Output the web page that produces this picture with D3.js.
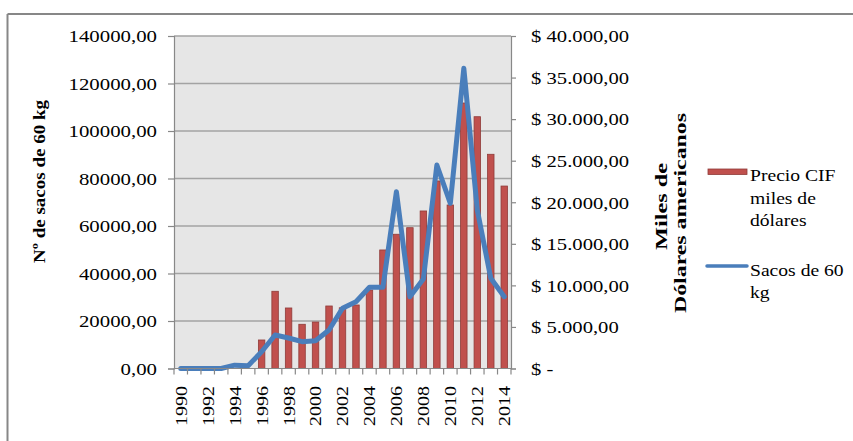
<!DOCTYPE html>
<html>
<head>
<meta charset="utf-8">
<script src="https://cdn.jsdelivr.net/npm/d3@7"></script>
<style>
  html, body { margin: 0; padding: 0; background: #fff; }
  svg { display: block; }
  text { font-family: "Liberation Serif", "Times New Roman", serif; fill: #000; }
</style>
</head>
<body>
<svg id="chart" width="853" height="441"></svg>
<script>
// ---- data ----
const years = ["1990","1991","1992","1993","1994","1995","1996","1997","1998","1999","2000","2001","2002",
               "2003","2004","2005","2006","2007","2008","2009","2010","2011","2012","2013","2014"];
// Precio CIF miles de dólares (bars, right axis)
const precioCIF = [0,0,0,0,0,0,3430,9290,7280,5320,5590,7520,7300,7640,9440,14260,16150,16940,18950,22560,19670,31940,30290,25770,21950];
// Sacos de 60 kg (line, left axis)
const sacos = [0,0,0,0,1400,1200,7070,14100,12840,11280,11700,16200,25350,28130,34190,34190,74440,30230,37680,85680,69560,126400,66740,37980,30230];
const leftTicks = [0,20000,40000,60000,80000,100000,120000,140000];
const rightTicks = [0,5000,10000,15000,20000,25000,30000,35000,40000];
const xTickLabels = ["1990","1992","1994","1996","1998","2000","2002","2004","2006","2008","2010","2012","2014"];
const leftTitle = "Nº de sacos de 60 kg";
const rightTitle = ["Miles de", "Dólares  americanos"];
const legendPrecio = ["Precio CIF", "miles de", "dólares"];
const legendSacos = ["Sacos de 60", "kg"];

// ---- layout ----
const svg = d3.select("#chart");
const L = 174, R = 511, T = 36, B = 368.5;
const FS = 17.5;
const red = "#c0504d", redStroke = "#8f3b39", blue = "#4a7ebb";
const axisGray = "#888888", gridGray = "#a3a3a3";

function stretch(sel, f) {
  sel.each(function () {
    const l = this.getComputedTextLength();
    d3.select(this).attr("textLength", l * f).attr("lengthAdjust", "spacingAndGlyphs");
  });
}
function fitLen(sel, len) {
  sel.attr("textLength", len).attr("lengthAdjust", "spacingAndGlyphs");
}

// outer chart border
svg.append("line").attr("x1", 7.5).attr("x2", 853).attr("y1", 14).attr("y2", 14)
  .attr("stroke", "#878787").attr("stroke-width", 2);
svg.append("line").attr("x1", 7.5).attr("x2", 7.5).attr("y1", 14).attr("y2", 441)
  .attr("stroke", "#878787").attr("stroke-width", 2);

const x = d3.scaleBand().domain(years).range([L, R]).padding(0);
const yL = d3.scaleLinear().domain([0, 140000]).range([B, T]);
const yR = d3.scaleLinear().domain([0, 40000]).range([B, T]);

// plot background
svg.append("rect").attr("x", L).attr("y", T).attr("width", R - L).attr("height", B - T).attr("fill", "#e6e6e6");

// gridlines
svg.append("g").selectAll("line").data(leftTicks.filter(d => d > 0)).join("line")
  .attr("x1", L).attr("x2", R).attr("y1", d => yL(d)).attr("y2", d => yL(d))
  .attr("stroke", gridGray).attr("stroke-width", 1.5);

// bars
const bw = x.bandwidth() * 0.48;
svg.append("g").selectAll("rect").data(years.map((y, i) => ({ y, v: precioCIF[i] })).filter(d => d.v > 0)).join("rect")
  .attr("x", d => x(d.y) + x.bandwidth() / 2 - bw / 2)
  .attr("y", d => yR(d.v))
  .attr("width", bw)
  .attr("height", d => B - yR(d.v))
  .attr("fill", red).attr("stroke", redStroke).attr("stroke-width", 0.8);

// line
const line = d3.line().x((d, i) => x(years[i]) + x.bandwidth() / 2).y(d => yL(d));
svg.append("path").datum(sacos).attr("d", line)
  .attr("fill", "none").attr("stroke", blue).attr("stroke-width", 5)
  .attr("stroke-linejoin", "round").attr("stroke-linecap", "round");

// left axis
const fmtLeft = v => v.toFixed(2).replace(".", ",");
const axL = svg.append("g").attr("transform", `translate(${L},0)`)
  .call(d3.axisLeft(yL).tickValues(leftTicks).tickFormat(fmtLeft).tickSize(6).tickPadding(11));
axL.select(".domain").attr("stroke", axisGray).attr("stroke-width", 1.2);
axL.selectAll(".tick line").attr("stroke", axisGray).attr("stroke-width", 1.2);
axL.selectAll(".tick text").attr("font-size", FS).attr("font-family", "Liberation Serif").attr("dy", "0.33em").call(stretch, 1.19);

// right axis
const loc = d3.formatLocale({ decimal: ",", thousands: ".", grouping: [3], currency: ["$ ", ""] });
const fmtR0 = loc.format("$,.2f");
const fmtRight = v => v === 0 ? "$ -" : fmtR0(v);
const axR = svg.append("g").attr("transform", `translate(${R},0)`)
  .call(d3.axisRight(yR).tickValues(rightTicks).tickFormat(fmtRight).tickSize(5).tickPadding(15));
axR.select(".domain").attr("stroke", axisGray).attr("stroke-width", 1.2);
axR.selectAll(".tick line").attr("stroke", axisGray).attr("stroke-width", 1.2);
axR.selectAll(".tick text").attr("font-size", FS).attr("font-family", "Liberation Serif").attr("dy", "0.33em").call(stretch, 1.18);

// bottom axis: ticks at category boundaries
const xb = svg.append("g");
xb.append("line").attr("x1", L).attr("x2", R).attr("y1", B).attr("y2", B).attr("stroke", axisGray).attr("stroke-width", 1.2);
xb.selectAll("line.tk").data(years.concat(["end"])).join("line").attr("class", "tk")
  .attr("x1", (d, i) => i < years.length ? x(d) : R).attr("x2", (d, i) => i < years.length ? x(d) : R)
  .attr("y1", B).attr("y2", B + 6).attr("stroke", axisGray).attr("stroke-width", 1.2);
xb.selectAll("text").data(xTickLabels).join("text")
  .attr("transform", d => `translate(${x(d) + x.bandwidth() / 2},386) rotate(-90)`)
  .attr("text-anchor", "end").attr("dy", "0.34em").attr("font-size", FS)
  .text(d => d).call(stretch, 1.14);

// axis titles
svg.append("text").attr("transform", `translate(45,181.5) rotate(-90)`)
  .attr("text-anchor", "middle").attr("font-weight", "bold").attr("font-size", FS)
  .text(leftTitle).call(fitLen, 163);
svg.append("text").attr("transform", `translate(667,206.5) rotate(-90)`)
  .attr("text-anchor", "middle").attr("font-weight", "bold").attr("font-size", FS)
  .text(rightTitle[0]).call(fitLen, 87);
svg.append("text").attr("transform", `translate(686,213) rotate(-90)`)
  .attr("text-anchor", "middle").attr("font-weight", "bold").attr("font-size", FS)
  .text(rightTitle[1]).call(fitLen, 200);

// legend
svg.append("rect").attr("x", 708).attr("y", 169).attr("width", 39).attr("height", 5.5)
  .attr("fill", red).attr("stroke", redStroke).attr("stroke-width", 0.8);
svg.append("g").selectAll("text").data(legendPrecio).join("text")
  .attr("x", 750).attr("y", (d, i) => 181 + i * 22.5).attr("font-size", FS)
  .text(d => d).call(stretch, 1.12);
svg.append("line").attr("x1", 707).attr("x2", 747).attr("y1", 266).attr("y2", 266)
  .attr("stroke", blue).attr("stroke-width", 3.5).attr("stroke-linecap", "round");
svg.append("g").selectAll("text").data(legendSacos).join("text")
  .attr("x", 750).attr("y", (d, i) => 276 + i * 21.5).attr("font-size", FS)
  .text(d => d).call(stretch, 1.12);
</script>
</body>
</html>
